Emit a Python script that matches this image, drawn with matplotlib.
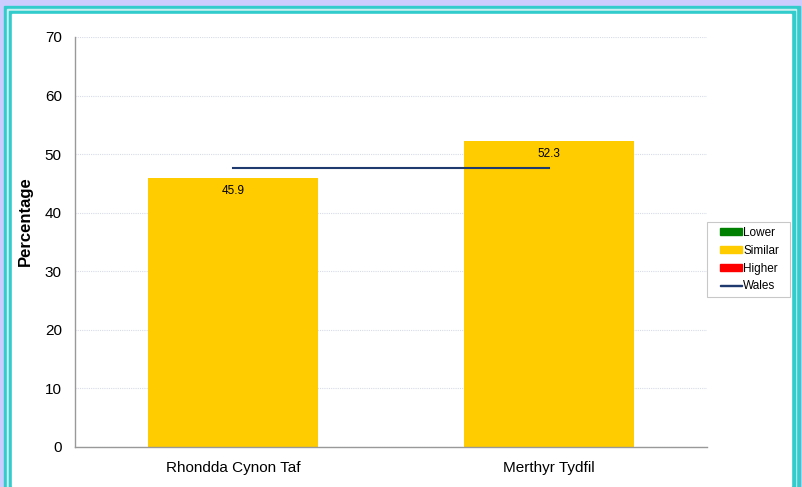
import matplotlib
matplotlib.use("Agg")
import matplotlib.pyplot as plt
from matplotlib.patches import Rectangle, Patch
from matplotlib.legend_handler import HandlerPatch

areas = ["Rhondda Cynon Taf", "Merthyr Tydfil"]
values = [45.9, 52.3]
wales = 47.6
legend_labels = ["Lower", "Similar", "Higher", "Wales"]

_YELLOW = "#FFCC00"
_GREEN = "#008000"
_RED = "#FF0000"
_NAVY = "#1F3A6E"

plt.rcParams["font.family"] = ["Liberation Sans", "DejaVu Sans"]

fig = plt.figure(figsize=(8.03, 4.87), dpi=100)
W, H = 803, 487

# page frame: lavender background, double cyan border
def frect(x0, y0, x1, y1, color):
    fig.patches.append(Rectangle((x0 / W, 1 - y1 / H), (x1 - x0) / W, (y1 - y0) / H,
                                 transform=fig.transFigure, color=color, zorder=-10))

frect(0, 0, W, H, "#CCCCFF")
frect(4, 6, 800, H + 5, "#33CCCC")
frect(7, 9, 796, H + 5, "#C8F0F0")
frect(9, 11, 795, H + 5, "#33CCCC")
frect(12, 14, 791, 486, "white")

ax = fig.add_axes([75 / W, 1 - 447 / H, (707 - 75) / W, (447 - 37) / H])
ax.set_facecolor("none")

x = list(range(len(areas)))
bars = ax.bar(x, values, width=0.54, color=_YELLOW, zorder=2)
for b, v in zip(bars, values):
    ax.annotate(f"{v:.1f}", (b.get_x() + b.get_width() / 2, v), xytext=(0, -9.5),
                textcoords="offset points", ha="center", va="center", fontsize=8.5, zorder=4)

ax.plot(x, [wales] * len(x), color=_NAVY, lw=1.5, zorder=3)

ax.set_xlim(-0.5, len(areas) - 0.5)
ax.set_ylim(0, 70)
ax.set_yticks(range(0, 71, 10))
ax.set_xticks(x)
ax.set_xticklabels(areas, fontsize=11)
ax.tick_params(axis="both", length=0, labelsize=11)
ax.tick_params(axis="y", pad=9.5)
ax.tick_params(axis="x", pad=10)
ax.grid(axis="y", color="#D8DCE8", lw=0.8, ls=(0, (1, 1)), zorder=0)
for s in ["top", "right"]:
    ax.spines[s].set_visible(False)
for s in ["left", "bottom"]:
    ax.spines[s].set_color("#999999")
    ax.spines[s].set_linewidth(1)
ax.set_ylabel("Percentage", fontsize=12, fontweight="bold")
ax.yaxis.set_label_coords(-0.066, 0.551)


# legend swatches sit at the right end of the handle box
def swatch(legend, orig_handle, xdescent, ydescent, width, height, fontsize):
    w = 22 * 72 / 100
    if orig_handle.get_label() == "line":
        return Rectangle((-xdescent + width - w, -ydescent + height / 2 - 0.55), w, 1.1)
    return Rectangle((-xdescent + width - w, -ydescent), w, height)


handles = [Patch(color=_GREEN), Patch(color=_YELLOW), Patch(color=_RED),
           Patch(color=_NAVY, label="line")]
leg = fig.legend(handles, legend_labels, loc="upper left", mode="expand",
                 bbox_to_anchor=(707 / W, 1 - 298 / H, 83 / W, 76 / H), fontsize=8.5,
                 frameon=True, fancybox=False, edgecolor="#BBBBBB",
                 handler_map={Patch: HandlerPatch(patch_func=swatch)},
                 handlelength=2.57, handleheight=0.6, handletextpad=0.1,
                 labelspacing=0.5, borderpad=0.4, borderaxespad=0)
leg.get_frame().set_linewidth(0.8)

fig.savefig("out.png", dpi=100)
